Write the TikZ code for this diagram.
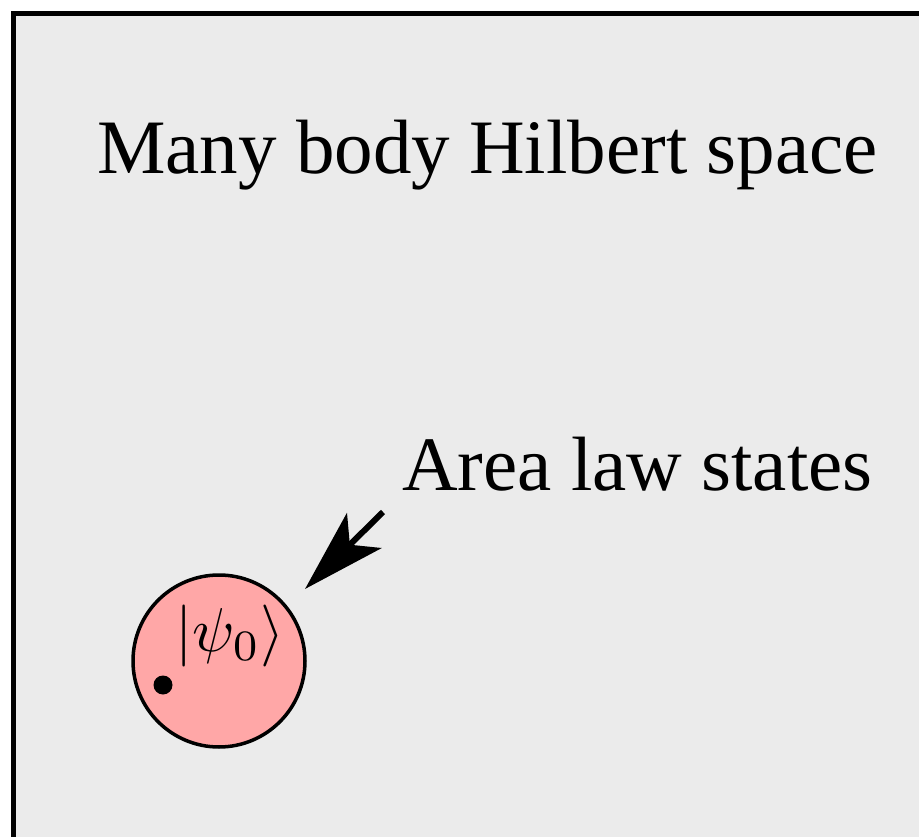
\documentclass[tikz,border=0pt]{standalone}
\usepackage{fontspec}
\setmainfont{Liberation Serif}
\usetikzlibrary{arrows.meta}
\definecolor{bggray}{RGB}{235,235,235}
\definecolor{statepink}{RGB}{255,167,167}
\begin{document}
\begin{tikzpicture}[x=1pt,y=-1pt,
  bigtext/.style={font=\fontsize{77}{90}\selectfont, inner sep=0pt, anchor=base west},
  pointer/.style={line width=6pt, -{Stealth[length=83pt,width=49pt,inset=20pt]}}]
\useasboundingbox (0,0) rectangle (919,837);
\begin{scope}
\clip (0,0) rectangle (919,837);
\draw[line width=5pt, fill=bggray] (13.5,13.5) rectangle (1000,1000);
\end{scope}
\node[bigtext] (title) at (97,174) {Many body Hilbert space};
\node[bigtext] (area) at (402,490) {Area law states};
\node[circle, draw, line width=3.5pt, fill=statepink, minimum size=172pt, inner sep=0pt] (ball) at (219,661) {};
\fill (163,685) circle (9.5pt);
\node[inner sep=0pt, anchor=base west] (psi) at (175,651) {\scalebox{6.2}{$|\psi_0\rangle$}};
\coordinate (from) at (383,512);
\coordinate (to) at (305,589);
\draw[pointer] (from) -- (to);
\end{tikzpicture}
\end{document}
